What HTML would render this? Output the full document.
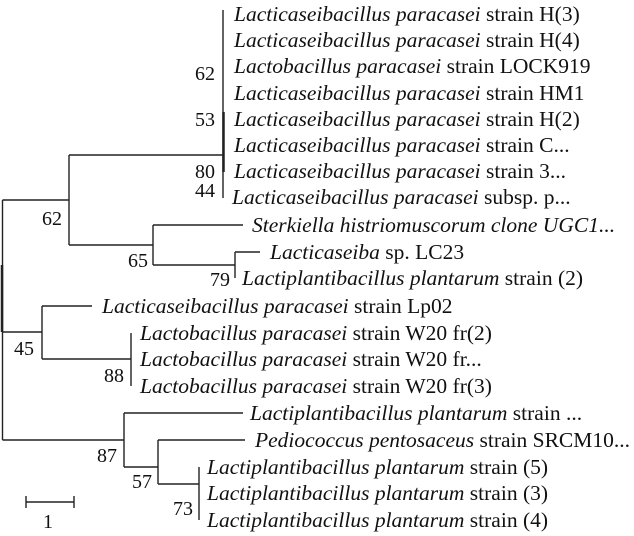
<!DOCTYPE html>
<html><head><meta charset="utf-8"><style>
html,body{margin:0;padding:0;background:#fff;}
svg{display:block;}
text{font-family:"Liberation Serif",serif;font-size:21.5px;fill:#111;}
.i{font-style:italic;}
.n{font-size:20px;}
</style></head><body>
<svg width="634" height="536" viewBox="0 0 634 536" xmlns="http://www.w3.org/2000/svg">
<g stroke="#222" stroke-width="1.4" fill="none">
<line x1="2.5" y1="200" x2="2.5" y2="440"/>
<line x1="2" y1="265" x2="2" y2="332" stroke-width="2.5"/>
<line x1="2.5" y1="200" x2="69" y2="200"/>
<line x1="2.5" y1="332" x2="42" y2="332"/>
<line x1="2.5" y1="440" x2="124" y2="440"/>
<line x1="69" y1="155" x2="69" y2="245"/>
<line x1="69" y1="155" x2="223" y2="155"/>
<line x1="223" y1="10" x2="223" y2="198"/>
<line x1="223.5" y1="112" x2="223.5" y2="172" stroke-width="2.5"/>
<line x1="69" y1="245" x2="153" y2="245"/>
<line x1="153" y1="225" x2="153" y2="265"/>
<line x1="153" y1="225" x2="243" y2="225"/>
<line x1="153" y1="265" x2="235" y2="265"/>
<line x1="235" y1="252" x2="235" y2="278"/>
<line x1="235" y1="252" x2="260" y2="252"/>
<line x1="42" y1="306" x2="42" y2="359"/>
<line x1="42" y1="306" x2="92" y2="306"/>
<line x1="42" y1="359" x2="131" y2="359"/>
<line x1="131" y1="333" x2="131" y2="386"/>
<line x1="124" y1="413" x2="124" y2="467"/>
<line x1="124" y1="413" x2="243" y2="413"/>
<line x1="124" y1="467" x2="158" y2="467"/>
<line x1="158" y1="440" x2="158" y2="484"/>
<line x1="158" y1="440" x2="245" y2="440"/>
<line x1="158" y1="484" x2="199" y2="484"/>
<line x1="199" y1="467" x2="199" y2="520"/>
<line x1="26" y1="502" x2="74" y2="502"/>
<line x1="26" y1="496" x2="26" y2="508"/>
<line x1="74" y1="496" x2="74" y2="508"/>
</g>
<text class="n" x="43" y="528">1</text>
<text class="n" x="195" y="80">62</text>
<text class="n" x="195" y="126">53</text>
<text class="n" x="195" y="178">80</text>
<text class="n" x="195" y="197">44</text>
<text class="n" x="42" y="225">62</text>
<text class="n" x="128" y="267">65</text>
<text class="n" x="210" y="286">79</text>
<text class="n" x="14" y="355">45</text>
<text class="n" x="104" y="382">88</text>
<text class="n" x="97" y="462">87</text>
<text class="n" x="132" y="488">57</text>
<text class="n" x="173" y="515">73</text>
<text x="234" y="21"><tspan class="i">Lacticaseibacillus paracasei</tspan> strain H(3)</text>
<text x="234" y="47"><tspan class="i">Lacticaseibacillus paracasei</tspan> strain H(4)</text>
<text x="234" y="73"><tspan class="i">Lactobacillus paracasei</tspan> strain LOCK919</text>
<text x="234" y="100"><tspan class="i">Lacticaseibacillus paracasei</tspan> strain HM1</text>
<text x="234" y="126"><tspan class="i">Lacticaseibacillus paracasei</tspan> strain H(2)</text>
<text x="234" y="152"><tspan class="i">Lacticaseibacillus paracasei</tspan> strain C...</text>
<text x="234" y="178"><tspan class="i">Lacticaseibacillus paracasei</tspan> strain 3...</text>
<text x="232" y="204"><tspan class="i">Lacticaseibacillus paracasei</tspan> subsp. p...</text>
<text x="252" y="232" class="i">Sterkiella histriomuscorum clone UGC1...</text>
<text x="270" y="259"><tspan class="i">Lacticaseiba</tspan> sp. LC23</text>
<text x="242" y="285"><tspan class="i">Lactiplantibacillus plantarum</tspan> strain (2)</text>
<text x="102" y="313"><tspan class="i">Lacticaseibacillus paracasei</tspan> strain Lp02</text>
<text x="140" y="340"><tspan class="i">Lactobacillus paracasei</tspan> strain W20 fr(2)</text>
<text x="140" y="366"><tspan class="i">Lactobacillus paracasei</tspan> strain W20 fr...</text>
<text x="140" y="393"><tspan class="i">Lactobacillus paracasei</tspan> strain W20 fr(3)</text>
<text x="250" y="420"><tspan class="i">Lactiplantibacillus plantarum</tspan> strain ...</text>
<text x="255" y="447"><tspan class="i">Pediococcus pentosaceus</tspan> strain SRCM10...</text>
<text x="207" y="474"><tspan class="i">Lactiplantibacillus plantarum</tspan> strain (5)</text>
<text x="207" y="500"><tspan class="i">Lactiplantibacillus plantarum</tspan> strain (3)</text>
<text x="207" y="527"><tspan class="i">Lactiplantibacillus plantarum</tspan> strain (4)</text>
</svg>
</body></html>
